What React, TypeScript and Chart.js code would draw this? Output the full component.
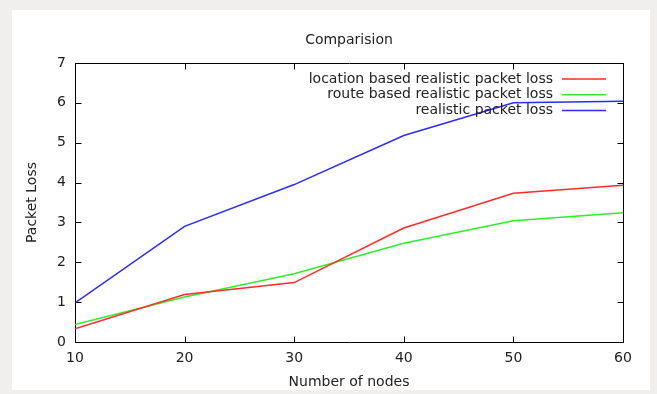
import React, { useEffect, useRef } from "react";
import { Chart, registerables } from "chart.js";

Chart.register(...registerables);

const nodes = [10, 20, 30, 40, 50, 60];
const locationBased = [0.33, 1.19, 1.49, 2.86, 3.73, 3.93];
const routeBased = [0.44, 1.13, 1.71, 2.48, 3.04, 3.24];
const realistic = [0.98, 2.9, 3.95, 5.18, 6.0, 6.04];
const seriesLabels = [
  "location based realistic packet loss",
  "route based realistic packet loss",
  "realistic packet loss",
];
const seriesColors = ["#ff2a2a", "#2aef2a", "#2a2aff"];
const xTickValues = [10, 20, 30, 40, 50, 60];
const yTickValues = [0, 1, 2, 3, 4, 5, 6, 7];
const chartTitle = "Comparision";
const xTitle = "Number of nodes";
const yTitle = "Packet Loss";

const FONT = "'DejaVu Sans', sans-serif";
const TEXT = "#222";

const backgroundPlugin = {
  id: "bgFrame",
  beforeDraw(chart: any) {
    const ctx = chart.ctx;
    ctx.save();
    ctx.fillStyle = "#f0efee";
    ctx.fillRect(0, 0, chart.width, chart.height);
    ctx.fillStyle = "#ffffff";
    ctx.fillRect(12, 10, 638, 380);
    ctx.restore();
  },
};

const borderPlugin = {
  id: "gnuBorder",
  beforeDatasetsDraw(chart: any) {
    const { ctx, chartArea, scales } = chart;
    const { left, right, top, bottom } = chartArea;
    ctx.save();
    ctx.strokeStyle = "#000";
    ctx.lineWidth = 1;
    ctx.beginPath();
    const L = Math.round(left) + 0.5;
    const R = Math.round(right) + 0.5;
    const T = Math.round(top) + 0.5;
    const B = Math.round(bottom) + 0.5;
    ctx.rect(L, T, R - L, B - T);
    const tl = 6;
    xTickValues.forEach((v) => {
      const x = Math.round(scales.x.getPixelForValue(v)) + 0.5;
      ctx.moveTo(x, B);
      ctx.lineTo(x, B - tl);
      ctx.moveTo(x, T);
      ctx.lineTo(x, T + tl);
    });
    yTickValues.forEach((v) => {
      const y = Math.round(scales.y.getPixelForValue(v)) + 0.5;
      ctx.moveTo(L, y);
      ctx.lineTo(L + tl, y);
      ctx.moveTo(R, y);
      ctx.lineTo(R - tl, y);
    });
    ctx.stroke();
    ctx.restore();
  },
};

const legendPlugin = {
  id: "gnuLegend",
  afterDatasetsDraw(chart: any) {
    const { ctx, chartArea } = chart;
    ctx.save();
    ctx.font = `14px ${FONT}`;
    ctx.textBaseline = "middle";
    ctx.textAlign = "center";
    ctx.fillStyle = TEXT;
    ctx.fillText(chartTitle, (chartArea.left + chartArea.right) / 2, chartArea.top - 23);
    ctx.textAlign = "right";
    chart.data.datasets.forEach((ds: any, i: number) => {
      const y = chartArea.top + 16 + i * 15.75;
      ctx.fillStyle = TEXT;
      ctx.fillText(ds.label, chartArea.right - 70, y);
      ctx.strokeStyle = ds.borderColor;
      ctx.lineWidth = 1.5;
      ctx.beginPath();
      ctx.moveTo(chartArea.right - 61, y);
      ctx.lineTo(chartArea.right - 17, y);
      ctx.stroke();
    });
    ctx.restore();
  },
};

export default function App() {
  const ref = useRef<HTMLCanvasElement | null>(null);
  useEffect(() => {
    document.body.style.margin = "0";
    if (!ref.current) return;
    const series = [locationBased, routeBased, realistic];
    const chart = new Chart(ref.current, {
      type: "line",
      data: {
        datasets: series.map((vals, i) => ({
          label: seriesLabels[i],
          data: nodes.map((n, j) => ({ x: n, y: vals[j] })),
          borderColor: seriesColors[i],
          backgroundColor: seriesColors[i],
          borderWidth: 1.5,
          pointRadius: 0,
          tension: 0,
          fill: false,
        })),
      },
      options: {
        animation: false,
        responsive: false,
        layout: { padding: { left: 20, right: 34, top: 63, bottom: 0 } },
        plugins: {
          legend: { display: false },
          tooltip: { enabled: false },
          title: { display: false },
        },
        scales: {
          x: {
            type: "linear",
            min: 10,
            max: 60,
            afterBuildTicks: (s: any) => {
              s.ticks = xTickValues.map((v) => ({ value: v }));
            },
            afterFit: (s: any) => {
              s.height = 52;
            },
            grid: { display: false, drawTicks: false },
            border: { display: false },
            ticks: {
              color: TEXT,
              font: { family: FONT, size: 14 },
              padding: 8,
              maxRotation: 0,
            },
            title: {
              display: true,
              text: xTitle,
              color: TEXT,
              font: { family: FONT, size: 14 },
              padding: { top: 0, bottom: 3.6 },
            },
          },
          y: {
            type: "linear",
            min: 0,
            max: 7,
            afterBuildTicks: (s: any) => {
              s.ticks = yTickValues.map((v) => ({ value: v }));
            },
            afterFit: (s: any) => {
              s.width = 55;
            },
            grid: { display: false, drawTicks: false },
            border: { display: false },
            ticks: {
              color: TEXT,
              font: { family: FONT, size: 14 },
              padding: 9,
            },
            title: {
              display: true,
              text: yTitle,
              color: TEXT,
              font: { family: FONT, size: 14 },
              padding: { top: 3.6, bottom: 0 },
            },
          },
        },
      },
      plugins: [backgroundPlugin, borderPlugin, legendPlugin],
    });
    return () => chart.destroy();
  }, []);
  return (
    <div style={{ position: "absolute", left: 0, top: 0, width: 657, height: 394 }}>
      <canvas ref={ref} width={657} height={394} style={{ display: "block" }} />
    </div>
  );
}
